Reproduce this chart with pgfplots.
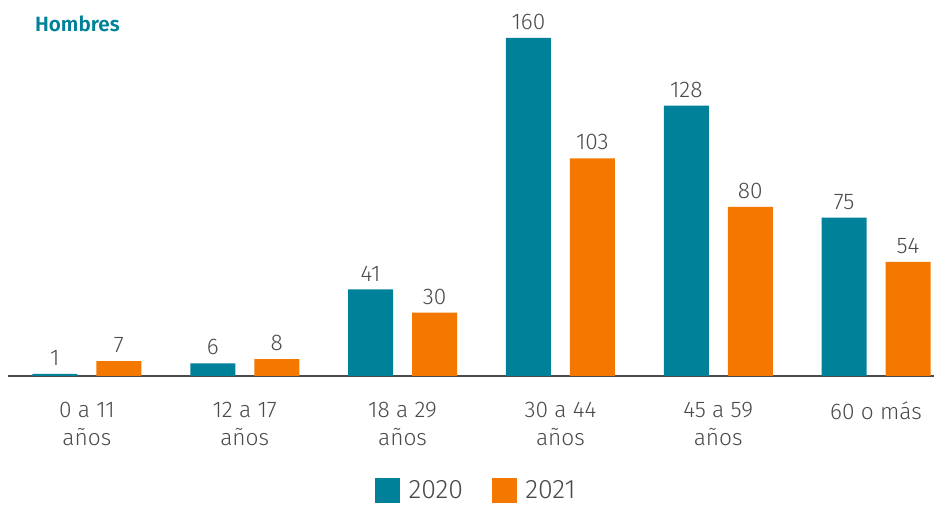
\documentclass[border=0pt]{standalone}
\usepackage{fontspec}
\setmainfont{Fira Sans}[UprightFont={* Light},BoldFont={* SemiBold}]
\usepackage{pgfplots}
\pgfplotsset{compat=1.18}
\definecolor{teal20}{HTML}{00819A}
\definecolor{orange21}{HTML}{F47700}
\definecolor{txt}{HTML}{4A4A4A}
\begin{document}
\begin{tikzpicture}
\path[use as bounding box] (-6pt,-96.75pt) rectangle (694.5pt,282pt);
\begin{axis}[
  scale only axis, width=694.5pt, height=253.5pt,
  xmin=-0.5, xmax=5.367, ymin=0, ymax=160,
  ybar=14.25pt, bar width=33.75pt,
  axis y line=none, axis x line*=bottom,
  x axis line style={draw=txt, line width=1.1pt, -},
  xtick=data, major tick length=0pt,
  xticklabels={{0 a 11\\años},{12 a 17\\años},{18 a 29\\años},{30 a 44\\años},{45 a 59\\años},{60 o más}},
  xticklabel style={align=center, inner sep=0pt, yshift=-19.5pt, anchor=north, font=\fontsize{17}{21}\selectfont, text=txt},
  ytick=\empty,
  clip=false,
  /pgf/number format/assume math mode=true,
  nodes near coords,
  every node near coord/.append style={font=\fontsize{17}{21}\selectfont, text=txt, anchor=south, inner sep=0pt, yshift=6pt},
  legend columns=2,
  legend style={draw=none, at={(axis description cs:0.506,0)}, anchor=center, yshift=-86pt, font=\fontsize{20}{24}\selectfont, text=txt, column sep=0pt, inner sep=1pt},
  legend image code/.code={\fill[#1] (0pt,-9.2pt) rectangle (18.75pt,9.2pt);},
  /tikz/every odd column/.append style={column sep=4.5pt},
  /tikz/every even column/.append style={column sep=19.5pt},
]
\addplot[fill=teal20, draw=none] coordinates {(0,1) (1,6) (2,41) (3,160) (4,128) (5,75)};
\addplot[fill=orange21, draw=none] coordinates {(0,7) (1,8) (2,30) (3,103) (4,80) (5,54)};
\legend{2020,2021}
\node[anchor=base west, inner sep=0pt, font=\fontsize{15.5}{18}\selectfont\bfseries, text=teal20] at (axis cs:-0.33,163) {Hombres};
\end{axis}
\end{tikzpicture}
\end{document}
